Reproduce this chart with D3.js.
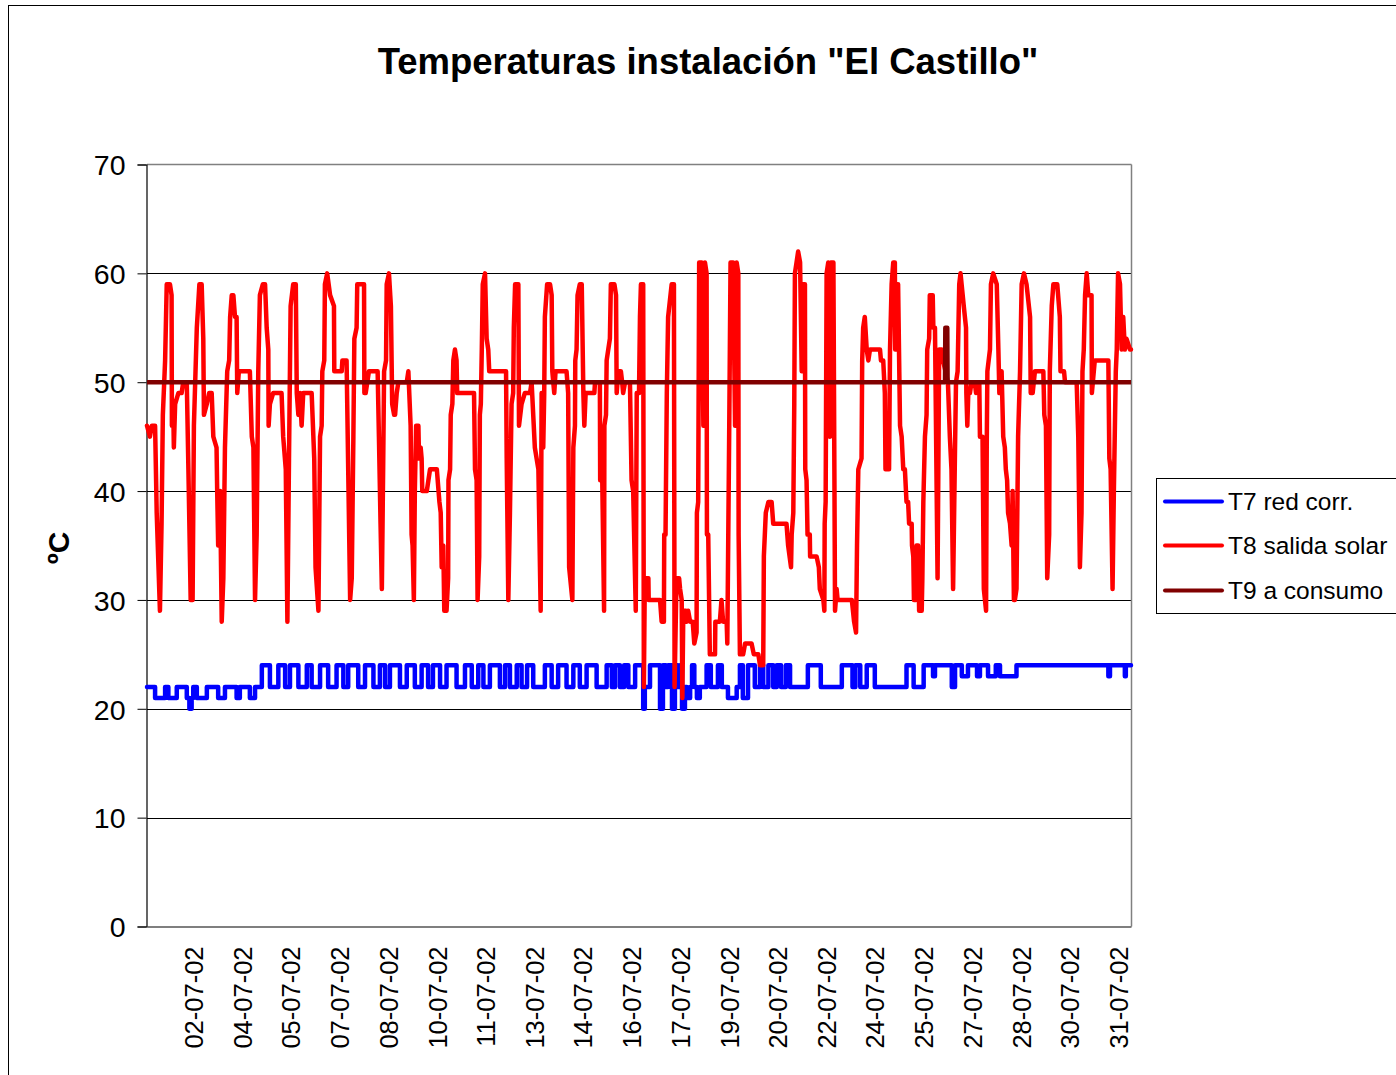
<!DOCTYPE html>
<html><head><meta charset="utf-8">
<script src="https://cdn.jsdelivr.net/npm/d3@7"></script>
<style>
body{margin:0;background:#fff}
svg{display:block}
text{font-family:"Liberation Sans",Arial,sans-serif;fill:#000}
</style>
</head><body>
<svg id="chart" width="1396" height="1075"></svg>
<script>
// ---------- DATA ----------
const chartTitle = 'Temperaturas instalación "El Castillo"';
const yAxisTitle = "ºC";
const yTicks = [0, 10, 20, 30, 40, 50, 60, 70];
const xTickLabels = ["02-07-02","04-07-02","05-07-02","07-07-02","08-07-02","10-07-02","11-07-02","13-07-02","14-07-02","16-07-02","17-07-02","19-07-02","20-07-02","22-07-02","24-07-02","25-07-02","27-07-02","28-07-02","30-07-02","31-07-02"];
// position of each label, in days elapsed since the first reading
const xTickDays = [1.43,2.94,4.44,5.95,7.45,8.96,10.46,11.97,13.47,14.98,16.48,17.99,19.49,21.00,22.50,24.01,25.51,27.02,28.52,30.03];
const xDomainDays = [0, 30.42];
const seriesNames = ["T7 red corr.", "T8 salida solar", "T9 a consumo"];
const seriesColors = ["#0000ff", "#ff0000", "#800000"];

// T7 red corr. : [day, ºC] (value held until next reading)
const t7 = [[0,22],[0.25,21],[0.56,22],[0.66,21],[0.92,22],[1.23,21],[1.31,20],[1.38,21],[1.43,22],[1.54,21],[1.85,22],[2.20,21],[2.41,22],[2.77,21],[2.87,22],[3.18,21],[3.34,22],[3.55,24],
[3.80,22],[4.06,24],[4.27,22],[4.42,24],[4.68,22],[4.94,24],[5.09,22],[5.35,24],[5.60,22],[5.86,24],[6.07,22],[6.22,24],[6.53,22],[6.74,24],[7.00,22],[7.20,24],[7.36,22],[7.51,24],
[7.82,22],[8.03,24],[8.28,22],[8.49,24],[8.69,22],[8.84,24],[9.06,22],[9.26,24],[9.57,22],[9.83,24],[10.04,22],[10.24,24],[10.40,22],[10.60,24],[10.91,22],[11.07,24],[11.22,22],[11.43,24],
[11.58,22],[11.75,24],[11.94,22],[12.30,24],[12.51,22],[12.71,24],[12.97,22],[13.18,24],[13.38,22],[13.59,24],[13.90,22],[14.21,24],[14.37,22],[14.47,24],[14.62,22],[14.75,24],[14.88,22],[15.09,24],
[15.34,20],[15.39,22],[15.55,24],[15.86,20],[15.95,24],[16.04,22],[16.11,24],[16.23,20],[16.32,24],[16.41,22],[16.48,24],[16.54,20],[16.63,22],[16.69,21],[16.79,22],[16.85,24],[16.92,22],[17.00,21],[17.09,22],[17.30,24],[17.43,22],[17.65,24],[17.77,22],[17.96,21],[18.23,22],[18.33,24],[18.42,21],[18.58,24],[18.79,22],[18.95,24],[19.05,22],[19.21,24],[19.36,22],[19.47,24],[19.60,22],[19.75,24],[19.88,22],[20.43,24],[20.83,22],[21.48,24],[21.81,22],[21.90,24],[22.05,22],[22.25,24],[22.50,22],[23.48,24],[23.70,22],[24.01,24],[24.30,23],[24.36,24],[24.88,22],[24.98,24],[25.19,23],[25.38,24],[25.66,23],[25.75,24],[26.00,23],[26.24,24],[26.37,23],[26.88,24],[29.72,23],[29.77,24],[30.23,23],[30.26,24],[30.42,24]];

// T8 salida solar : [day, ºC]
const t8 = [[0,46],[0.09,45],[0.15,46],[0.25,46],[0.30,38],[0.40,29],[0.45,37],[0.49,47],[0.56,52],[0.61,59],[0.71,59],[0.76,58],[0.77,46],[0.81,48],[0.83,44],[0.87,48],[0.97,49],[1.07,49],[1.12,50],[1.23,50],[1.28,42],[1.35,30],[1.41,30],[1.45,46],[1.54,55],[1.62,59],[1.69,59],[1.74,54],[1.76,47],[1.85,48],[1.92,49],[2.00,49],[2.05,45],[2.15,44],[2.17,40],[2.20,35],[2.26,40],[2.31,28],[2.36,32],[2.41,44],[2.48,51],[2.54,52],[2.57,56],[2.62,58],[2.67,58],[2.72,56],[2.77,56],[2.79,49],[2.84,51],[3.18,51],[3.24,45],[3.29,44],[3.34,30],[3.39,36],[3.44,51],[3.49,58],[3.58,59],[3.65,59],[3.70,55],[3.75,53],[3.76,46],[3.80,48],[3.90,49],[4.16,49],[4.21,45],[4.29,42],[4.34,28],[4.37,37],[4.39,43],[4.44,57],[4.52,59],[4.60,59],[4.63,49],[4.68,47],[4.73,49],[4.78,46],[4.83,49],[5.09,49],[5.17,43],[5.21,33],[5.30,29],[5.35,45],[5.40,46],[5.42,51],[5.48,52],[5.50,59],[5.57,60],[5.66,58],[5.78,57],[5.79,51],[6.02,51],[6.04,52],[6.17,52],[6.20,46],[6.28,30],[6.33,32],[6.38,45],[6.41,54],[6.48,55],[6.50,59],[6.71,59],[6.72,49],[6.76,49],[6.86,51],[7.13,51],[7.17,45],[7.22,37],[7.26,31],[7.30,42],[7.33,51],[7.39,52],[7.41,59],[7.48,60],[7.54,57],[7.58,48],[7.64,47],[7.67,47],[7.72,49],[7.77,50],[8.03,50],[8.08,51],[8.15,46],[8.18,36],[8.21,35],[8.25,30],[8.28,40],[8.32,46],[8.39,46],[8.41,43],[8.46,44],[8.49,43],[8.51,40],[8.65,40],[8.70,41],[8.75,42],[8.96,42],[9.04,39],[9.08,38],[9.11,33],[9.16,35],[9.19,29],[9.26,29],[9.31,32],[9.32,41],[9.37,42],[9.39,47],[9.44,48],[9.47,52],[9.52,53],[9.57,52],[9.59,49],[10.11,49],[10.14,42],[10.19,41],[10.22,30],[10.27,34],[10.29,47],[10.32,48],[10.35,53],[10.38,59],[10.45,60],[10.50,54],[10.55,53],[10.58,51],[11.10,51],[11.12,43],[11.17,30],[11.22,38],[11.27,48],[11.32,49],[11.34,55],[11.38,59],[11.48,59],[11.50,46],[11.58,48],[11.68,49],[11.84,49],[11.89,50],[11.99,44],[12.10,42],[12.17,29],[12.20,49],[12.25,44],[12.28,49],[12.30,56],[12.37,59],[12.46,59],[12.51,58],[12.53,51],[12.59,49],[12.63,51],[12.97,51],[13.02,49],[13.05,33],[13.15,30],[13.18,44],[13.23,46],[13.24,52],[13.28,53],[13.31,58],[13.38,59],[13.44,59],[13.49,49],[13.52,46],[13.56,49],[13.83,49],[13.85,50],[14.00,50],[14.01,41],[14.07,42],[14.13,29],[14.14,46],[14.19,47],[14.21,52],[14.31,54],[14.34,59],[14.45,59],[14.50,58],[14.52,49],[14.57,51],[14.65,51],[14.69,50],[14.72,49],[14.78,50],[14.93,50],[14.98,41],[15.03,40],[15.11,29],[15.14,49],[15.21,49],[15.24,56],[15.27,59],[15.34,59],[15.36,22],[15.39,32],[15.50,32],[15.51,30],[15.86,30],[15.91,28],[15.98,28],[15.99,36],[16.03,36],[16.07,49],[16.11,56],[16.22,59],[16.29,59],[16.31,22],[16.37,32],[16.45,32],[16.48,31],[16.53,30],[16.55,21],[16.58,29],[16.66,29],[16.68,28],[16.73,29],[16.79,28],[16.87,28],[16.92,26],[16.99,27],[17.00,38],[17.04,39],[17.07,61],[17.15,61],[17.20,46],[17.25,61],[17.30,60],[17.31,36],[17.35,36],[17.40,25],[17.56,25],[17.57,28],[17.71,28],[17.76,30],[17.81,28],[17.92,28],[17.94,26],[17.97,36],[18.00,46],[18.04,61],[18.12,61],[18.18,46],[18.23,61],[18.28,60],[18.29,36],[18.33,25],[18.43,25],[18.49,26],[18.69,26],[18.76,25],[18.90,25],[18.95,24],[19.05,24],[19.07,34],[19.13,38],[19.21,39],[19.31,39],[19.36,37],[19.77,37],[19.82,35],[19.91,33],[19.93,36],[19.98,38],[20.01,48],[20.03,60],[20.08,61],[20.13,62],[20.19,61],[20.24,51],[20.26,59],[20.34,59],[20.35,42],[20.39,41],[20.42,36],[20.49,36],[20.50,34],[20.70,34],[20.77,33],[20.80,31],[20.91,30],[20.94,29],[20.95,37],[20.98,39],[21.01,60],[21.06,61],[21.11,45],[21.14,61],[21.22,61],[21.25,42],[21.27,29],[21.32,31],[21.35,30],[21.79,30],[21.86,28],[21.92,27],[21.95,35],[21.99,42],[22.09,43],[22.11,52],[22.14,55],[22.19,56],[22.25,53],[22.30,52],[22.35,53],[22.66,53],[22.69,52],[22.76,52],[22.81,49],[22.83,42],[22.94,42],[22.97,53],[23.02,59],[23.07,61],[23.12,61],[23.13,53],[23.17,59],[23.22,59],[23.28,46],[23.33,45],[23.38,42],[23.43,42],[23.48,39],[23.53,39],[23.56,37],[23.64,37],[23.65,35],[23.69,34],[23.71,30],[23.77,30],[23.79,35],[23.84,35],[23.87,29],[23.95,29],[23.97,32],[24.00,39],[24.05,45],[24.10,47],[24.12,53],[24.18,54],[24.20,58],[24.29,58],[24.31,55],[24.36,55],[24.44,32],[24.49,53],[24.57,53],[24.61,52],[24.76,50],[24.82,45],[24.87,42],[24.92,31],[24.98,44],[25.01,50],[25.06,51],[25.11,59],[25.15,60],[25.25,57],[25.32,55],[25.33,49],[25.36,46],[25.39,49],[25.44,49],[25.49,50],[25.59,50],[25.63,49],[25.73,50],[25.75,45],[25.83,45],[25.87,31],[25.94,29],[25.96,44],[25.98,51],[26.06,53],[26.09,59],[26.16,60],[26.27,59],[26.32,53],[26.35,49],[26.42,51],[26.47,45],[26.52,44],[26.55,42],[26.59,41],[26.62,38],[26.68,37],[26.73,35],[26.76,40],[26.80,30],[26.83,30],[26.88,31],[26.93,45],[26.99,51],[27.04,59],[27.11,60],[27.19,59],[27.30,56],[27.32,49],[27.38,49],[27.45,51],[27.71,51],[27.74,47],[27.79,46],[27.83,32],[27.89,36],[27.91,51],[27.97,57],[28.02,59],[28.14,59],[28.22,56],[28.24,51],[28.35,51],[28.38,50],[28.74,50],[28.79,45],[28.84,33],[28.89,38],[28.92,51],[28.96,53],[29.00,58],[29.05,60],[29.10,58],[29.20,58],[29.21,49],[29.30,52],[29.72,52],[29.75,43],[29.79,42],[29.85,31],[29.89,40],[29.95,51],[29.98,53],[29.99,55],[30.02,60],[30.08,59],[30.13,53],[30.18,56],[30.23,53],[30.28,54],[30.39,53],[30.42,53]];

// T9 a consumo : [day, ºC]
const t9 = [[0,50],[24.67,50],[24.68,55],[24.74,55],[24.75,50],[30.42,50]];

// ---------- CHART ----------
const svg = d3.select("#chart");
const plot = {left: 147, right: 1131, top: 164.5, bottom: 926.5};
const FONT = '"Liberation Sans",Arial,sans-serif';

// outer chart border
svg.append("rect").attr("x", 8.5).attr("y", 5.5).attr("width", 1400).attr("height", 1090)
  .attr("fill", "#fff").attr("stroke", "#000").attr("stroke-width", 1);

const x = d3.scaleLinear().domain(xDomainDays).range([plot.left, plot.right]);
const y = d3.scaleLinear().domain([0, 70]).range([plot.bottom, plot.top]);

// title
svg.append("text").attr("x", 708).attr("y", 74).attr("text-anchor", "middle")
  .attr("font-size", 36.5).attr("font-weight", "bold").text(chartTitle);

// gridlines
svg.append("g").selectAll("line").data(yTicks.filter(v => v > 0 && v < 70)).join("line")
  .attr("x1", plot.left).attr("x2", plot.right)
  .attr("y1", d => Math.round(y(d)) + 0.5).attr("y2", d => Math.round(y(d)) + 0.5)
  .attr("stroke", "#000").attr("stroke-width", 1);

// plot area border (top/right grey)
svg.append("line").attr("x1", plot.left).attr("x2", plot.right + 0.5).attr("y1", plot.top).attr("y2", plot.top)
  .attr("stroke", "#808080").attr("stroke-width", 1.5);
svg.append("line").attr("x1", plot.right + 0.5).attr("x2", plot.right + 0.5).attr("y1", plot.top).attr("y2", plot.bottom)
  .attr("stroke", "#808080").attr("stroke-width", 1.5);

// y axis
const yAxis = d3.axisLeft(y).tickValues(yTicks).tickSize(9).tickPadding(12).tickFormat(d3.format("d"));
const gy = svg.append("g").attr("transform", `translate(${plot.left - 0.5},0)`).call(yAxis);
gy.select(".domain").attr("stroke", "#000").attr("stroke-width", 1.2);
gy.selectAll(".tick line").attr("stroke", "#000");
gy.selectAll(".tick text").attr("font-size", 28.5).attr("font-family", FONT).attr("fill", "#000").attr("dy", "0.36em");

// x axis
const xAxis = d3.axisBottom(x).tickValues(xTickDays).tickSize(0).tickFormat((d, i) => xTickLabels[i]);
const gx = svg.append("g").attr("transform", `translate(0,${plot.bottom})`).call(xAxis);
gx.select(".domain").attr("stroke", "#000").attr("stroke-width", 1.2);
gx.selectAll(".tick text")
  .attr("font-size", 25.5).attr("font-family", FONT).attr("fill", "#000")
  .attr("text-anchor", "end").attr("transform", "rotate(-90)")
  .attr("x", -20).attr("y", 0).attr("dy", "0.36em");

// y axis title
svg.append("text").attr("transform", "translate(69,548) rotate(-90)").attr("text-anchor", "middle")
  .attr("font-size", 30).attr("font-weight", "bold").text(yAxisTitle);

// series
const stepLine = d3.line().x(d => x(d[0])).y(d => y(d[1])).curve(d3.curveStepAfter);
const line = d3.line().x(d => x(d[0])).y(d => y(d[1]));
const lines = svg.append("g");
lines.append("path").datum(t7).attr("d", stepLine).attr("fill", "none")
  .attr("stroke", seriesColors[0]).attr("stroke-width", 4.5).attr("stroke-linejoin", "round").attr("stroke-linecap", "round");
lines.append("path").datum(t8).attr("d", line).attr("fill", "none")
  .attr("stroke", seriesColors[1]).attr("stroke-width", 4.5).attr("stroke-linejoin", "round").attr("stroke-linecap", "round");
lines.append("path").datum(t9).attr("d", line).attr("fill", "none")
  .attr("stroke", seriesColors[2]).attr("stroke-width", 4.5).attr("stroke-linejoin", "round");

// legend
const lg = svg.append("g");
lg.append("rect").attr("x", 1156.5).attr("y", 478.5).attr("width", 260).attr("height", 135)
  .attr("fill", "#fff").attr("stroke", "#000").attr("stroke-width", 1);
const legendRows = [501.5, 545.5, 590.5];
seriesNames.forEach((name, i) => {
  lg.append("line").attr("x1", 1165).attr("x2", 1222).attr("y1", legendRows[i]).attr("y2", legendRows[i])
    .attr("stroke", seriesColors[i]).attr("stroke-width", 4).attr("stroke-linecap", "round");
  lg.append("text").attr("x", 1228).attr("y", legendRows[i]).attr("dy", "0.35em")
    .attr("font-size", 24.5).text(name);
});
</script>
</body></html>
